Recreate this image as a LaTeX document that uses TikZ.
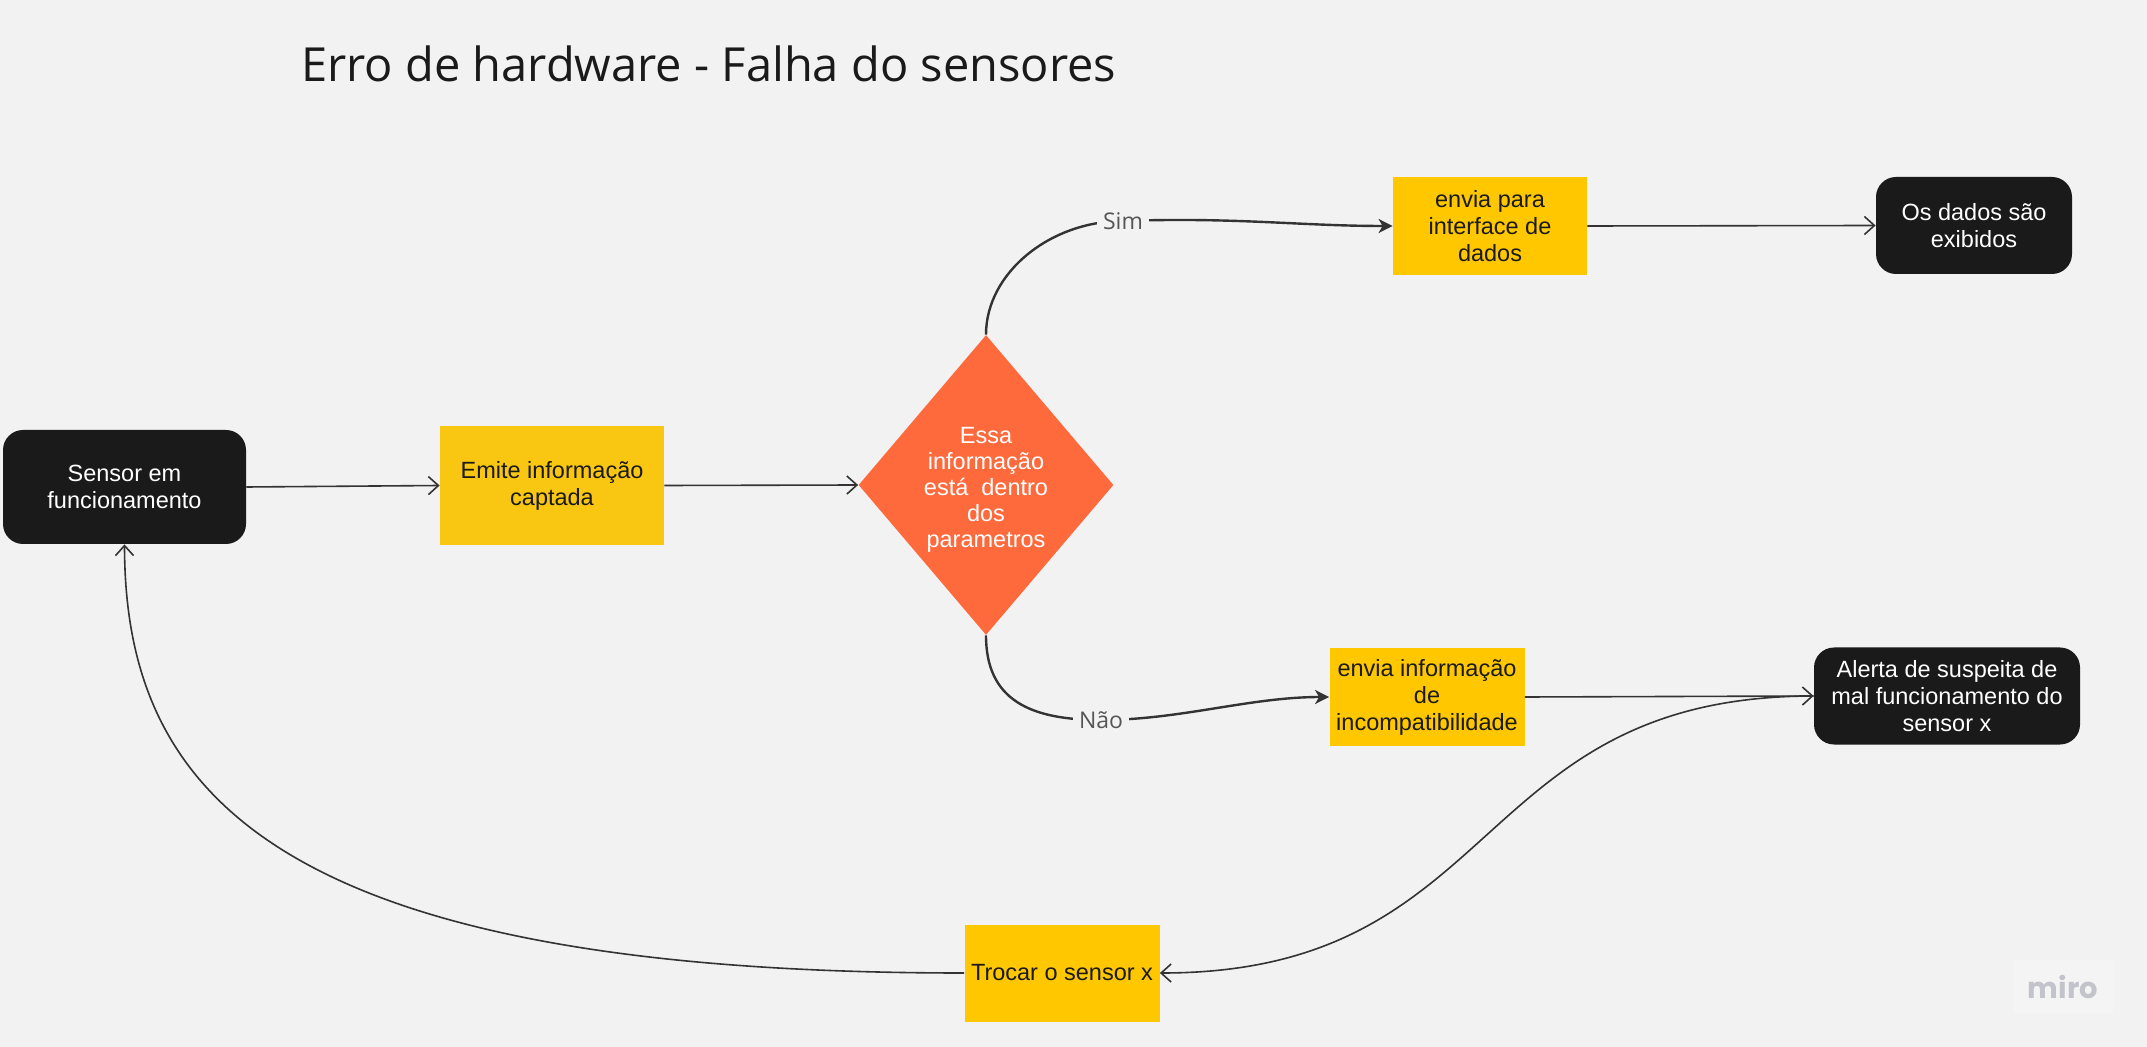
\documentclass[tikz,border=0pt]{standalone}
\usepackage{fontspec}
\setmainfont{Liberation Sans}
\newfontfamily\headfont{Open Sans}
\newfontfamily\logofont{Poppins}
\usetikzlibrary{shapes.geometric,arrows.meta}
\definecolor{bg}{HTML}{F2F2F2}
\definecolor{ink}{HTML}{1A1A1A}
\definecolor{wire}{HTML}{333333}
\definecolor{mustard}{HTML}{F9C712}
\definecolor{amber}{HTML}{FFC700}
\definecolor{flame}{HTML}{FF6A3D}
\definecolor{labelgray}{HTML}{555555}
\definecolor{logogray}{HTML}{C3C3CB}
\definecolor{logobg}{HTML}{F4F4F4}

\begin{document}
\begin{tikzpicture}[x=0.5pt,y=-0.5pt,
  box/.style={inner sep=2pt, align=center, font=\fontsize{11.75}{13.5}\selectfont},
  darkbox/.style={box, fill=ink, text=white, rounded corners=10pt},
  yellowbox/.style={box, fill=amber, text=ink},
  decision/.style={diamond, fill=flame, inner sep=0pt, minimum width=127.5pt, minimum height=150pt},
  decisiontext/.style={text=white, inner sep=0pt, align=center, font=\fontsize{11.75}{13}\selectfont},
  flow/.style={draw=wire, line width=0.8pt, -{Straight Barb[length=5pt,width=9pt]}},
  branch/.style={draw=wire, line width=1.2pt, -{Stealth[length=7pt,width=7pt,inset=2pt]}},
  branchlabel/.style={fill=bg, text=labelgray, inner sep=3pt, font=\headfont\fontsize{11.5}{13}\selectfont},
]
% canvas
\fill[bg] (0,0) rectangle (2147,1047);
\useasboundingbox (0,0) rectangle (2147,1047);

% heading
\node[anchor=base west, inner sep=0pt, text=ink, font=\headfont\fontsize{23.5}{28}\selectfont] (title)
  at (301,82) {Erro de hardware - Falha do sensores};

% process steps
\node[darkbox, minimum width=121.5pt, minimum height=57pt] (sensor) at (124.5,487) {Sensor em\\funcionamento};
\node[yellowbox, fill=mustard, minimum width=112pt, minimum height=59.5pt] (emite) at (552,485.5) {Emite informação\\captada};
\node[decision] (dia) at (986,485) {};
\node[decisiontext] (diatext) at ([yshift=-2.5pt]dia.center) {Essa\\informação\\está~ dentro\\dos\\parametros};
\node[yellowbox, minimum width=97pt, minimum height=49pt] (env) at (1490,226) {envia para\\interface de\\dados};
\node[darkbox, minimum width=98pt, minimum height=48.5pt] (dados) at (1974,225.5) {Os dados são\\exibidos};
\node[yellowbox, minimum width=97.5pt, minimum height=49pt] (inc) at (1427,697) {envia informação\\de\\incompatibilidade};
\node[darkbox, minimum width=133pt, minimum height=48.5pt] (ale) at (1947,696) {Alerta de suspeita de\\mal funcionamento do\\sensor x};
\node[yellowbox, minimum width=97.5pt, minimum height=48.5pt] (troca) at (1062,973) {Trocar o sensor x};

% straight links
\draw[flow] (sensor.east) -- (emite.west);
\draw[flow] (emite.east) -- (dia.west);
\draw[flow] (env.east) -- (dados.west);
\draw[flow] (inc.east) -- (ale.west);

% decision branches
\draw[branch] (dia.north) .. controls (986,273) and (1050,221) .. (1123,221) node[branchlabel] (sim) {Sim}
  .. controls (1235,217) and (1300,226) .. (env.west);
\draw[branch] (dia.south) .. controls (986,700) and (1030,720) .. (1101,720) node[branchlabel] (nao) {Não}
  .. controls (1180,720) and (1250,697) .. (inc.west);

% feedback loop
\draw[flow] (ale.west) .. controls (1468,696) and (1506,973) .. (troca.east);
\draw[flow] (troca.west) .. controls (270,973) and (125,790) .. (sensor.south);

% watermark
\node[fill=logobg, minimum width=50pt, minimum height=26.5pt, inner sep=0pt] (badge) at (2063,986.5) {};
\node[text=logogray, inner sep=0pt, font=\logofont\bfseries\fontsize{14.5}{16}\selectfont] (logo) at (badge) {miro};
\end{tikzpicture}
\end{document}
